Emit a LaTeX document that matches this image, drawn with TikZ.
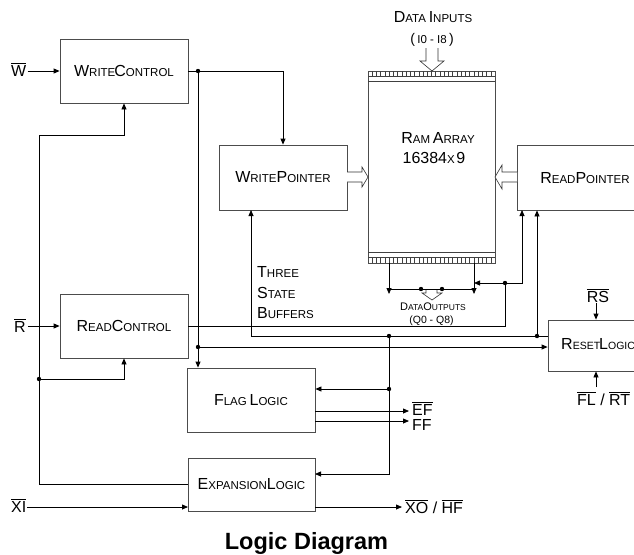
\documentclass[tikz,border=0pt]{standalone}
\usepackage{fontspec}
\setmainfont{Liberation Sans}
\usetikzlibrary{arrows.meta}
\newcommand\Bg[1]{{\fontsize{16}{16}\selectfont #1}}
\newcommand\Sm[1]{{\fontsize{11.5}{12}\selectfont #1}}
\newcommand\SCa[2]{\Bg{#1}\Sm{#2}}
\newcommand\Bd[1]{{\fontsize{11}{11}\selectfont #1}}
\newcommand\Sd[1]{{\fontsize{8.5}{9}\selectfont #1}}
\newcommand\Sr[1]{{\fontsize{10.5}{11}\selectfont #1}}
\newcommand\OL[1]{$\overline{\mbox{#1}}$}
\begin{document}
\begin{tikzpicture}[x=1pt,y=-1pt,
  box/.style={draw=black!70,line width=0.8pt,minimum width=128pt,minimum height=64pt,inner sep=0pt},
  wire/.style={line width=0.8pt},
  arr/.style={wire,-{Triangle[length=6pt,width=5pt]}},
  lbl/.style={inner sep=0pt,font=\fontsize{16}{16}\selectfont},
  txt/.style={inner sep=0pt},
  hollow/.style={draw=black!80,line width=0.6pt,fill=white}]
\useasboundingbox (0,0) rectangle (634,554);
\begin{scope}
\clip (0,0) rectangle (634,554);
% boxes
\node[box] (wc) at (124,71) {\SCa{W}{RITE}\kern-1pt\SCa{C}{ONTROL}};
\node[box] (rc) at (124,326) {\SCa{R}{EAD}\SCa{C}{ONTROL}};
\node[box,minimum height=65pt] (wp) at (283,177.5) {\SCa{W}{RITE}\SCa{P}{OINTER}};
\node[box,minimum width=142pt,minimum height=65pt] (rp) at (588,177.5) {};
\node[txt] (rptxt) at (585,178) {\SCa{R}{EAD}\SCa{P}{OINTER}};
\node[box,minimum width=127pt,minimum height=192pt] (ram) at (431.5,167) {};
\node[box,minimum width=112pt,minimum height=51pt] (rl) at (604,345.5) {};
\node[txt,anchor=west] (rltxt) at (561,344) {\Bg{R}\Sr{ESET}\kern-1pt\Bg{L}\Sr{OGIC}};
\node[box] (fl) at (251,400) {\SCa{F}{LAG} \SCa{L}{OGIC}};
\node[box,minimum width=127pt,minimum height=53pt] (el) at (251.5,484.5) {\SCa{E}{XPANSION}\SCa{L}{OGIC}};

% RAM bands
\draw[black!75,line width=0.6pt] (368,76.5) -- (495,76.5) (368,81) -- (495,81);
\foreach \i in {1,...,29} \draw[black!75,line width=0.5pt] (368+\i*4.233,71) -- ++(0,5.5);
\draw[black!75,line width=0.6pt] (368,252) -- (495,252) (368,257) -- (495,257);
\foreach \i in {1,...,29} \draw[black!75,line width=0.5pt] (368+\i*4.233,257) -- ++(0,6);

% RAM texts
\node[txt] (ramt) at (438,138) {\SCa{R}{AM} \SCa{A}{RRAY}};
\node[txt] (ramn) at (434,158) {{\fontsize{16}{16}\selectfont 16384}\Sm{X}\,{\fontsize{16}{16}\selectfont 9}};
\node[txt] (din) at (433,17) {\SCa{D}{ATA} \SCa{I}{NPUTS}};
\node[txt] (dinr) at (432,40) {{\fontsize{14}{14}\selectfont(\,\Sm{I0 - I8}\,)}};
\node[txt] (dout) at (433,307) {\Bd{D}\Sd{ATA}\Bd{O}\Sd{UTPUTS}};
\node[txt] (doutr) at (431.5,321) {{\fontsize{10.5}{11}\selectfont (Q0 - Q8)}};
\node[txt,anchor=west] (tb1) at (257,272) {\SCa{T}{HREE}};
\node[txt,anchor=west] (tb2) at (257,293) {\SCa{S}{TATE}};
\node[txt,anchor=west] (tb3) at (257,313) {\SCa{B}{UFFERS}};

% hollow arrows
\draw[hollow] (426,48) -- (426,61) -- (420,61) -- (432,71) -- (444,61) -- (438,61) -- (438,48);
\draw[hollow] (347,172) -- (362,172) -- (362,167) -- (368,177) -- (362,187) -- (362,182) -- (347,182);
\draw[hollow] (517,172) -- (502,172) -- (502,165) -- (495,177) -- (502,189) -- (502,182) -- (517,182);
\draw[hollow] (426,289) -- (426,293) -- (422,293) -- (432,300) -- (442,293) -- (437,293) -- (437,289);

% labels
\node[lbl,anchor=base west] (wl) at (11,76) {\OL{W}};
\node[lbl,anchor=base west] (rlb) at (14,332) {\OL{R}};
\node[lbl,anchor=base west] (xl) at (11,512) {\OL{XI}};
\node[lbl,anchor=base] (rsl) at (598,302) {\OL{RS}};
\node[lbl,anchor=base west] (frl) at (577,405) {\OL{FL} / \OL{RT}};
\node[lbl,anchor=base west] (efl) at (412,415) {\OL{EF}};
\node[lbl,anchor=base west] (ffl) at (412,430) {FF};
\node[lbl,anchor=base west] (xol) at (405,513) {\OL{XO} / \OL{HF}};

% coordinates
\coordinate (d1) at (198,71);
\coordinate (d2) at (198,347);
\coordinate (fbtop) at (39,135);
\coordinate (d3) at (39,379);
\coordinate (d4) at (505,283);
\coordinate (rpa) at (522,210);
\coordinate (d5) at (537,336);
\coordinate (wpin) at (251,210);
\coordinate (d6) at (389,336);
\coordinate (d7) at (389,389);
\coordinate (elin) at (315,474);
\coordinate (ql) at (389,263);
\coordinate (qr) at (474,263);
\coordinate (qlb) at (389,294);
\coordinate (qrb) at (474,294);
\coordinate (qh1) at (389,289);
\coordinate (qh2) at (474,289);
\coordinate (o1) at (421,289);
\coordinate (o2) at (442,289);
\coordinate (efa) at (315,411);
\coordinate (efb) at (409,411);
\coordinate (ffa) at (315,421);
\coordinate (ffb) at (409,421);
\coordinate (xoa) at (315,507);
\coordinate (xob) at (402,507);
\coordinate (xia) at (27,507);
\coordinate (xib) at (188,507);
\coordinate (rsa) at (596,303);
\coordinate (fra) at (596,387);

% connectors
\draw[arr] (wc.west -| wl.east) ++(1,0) -- (wc.west);
\draw[arr] (rc.west -| rlb.east) ++(2,0) -- (rc.west);
\draw[arr] (wc.east) -| (wp.north);
\draw[arr] (d1) -- (d1 |- fl.north);
\draw[arr] (d2) -- (d2 -| rl.west);
\draw[wire] (el.west) -| (fbtop);
\draw[arr] (fbtop) -| (wc.south);
\draw[arr] (d3) -| (rc.south);
\draw[wire] (rc.east) -| (d4);
\draw[arr] (d4) -- (d4 -| qr);
\draw[arr] (d4) -| (rpa);
\draw[arr] (rl.west |- d5) -| (wpin);
\draw[arr] (d5) -- (d5 |- rp.south);
\draw[arr] (d6) |- (elin);
\draw[arr] (d7) -- (d7 -| fl.east);
\draw[arr] (ql) -- (qlb);
\draw[arr] (qr) -- (qrb);
\draw[wire] (qh1) -- (qh2);
\draw[arr] (efa) -- (efb);
\draw[arr] (ffa) -- (ffb);
\draw[arr] (xoa) -- (xob);
\draw[arr] (xia) -- (xib);
\draw[arr] (rsa) -- (rsa |- rl.north);
\draw[arr] (fra) -- (fra |- rl.south);

% dots
\foreach \p in {d1,d2,d3,d4,d5,d6,d7,o1,o2} \fill (\p) circle (2.2pt);
\end{scope}
\node[anchor=base] (title) at (306.5,549) {\fontsize{23.5}{24}\selectfont\bfseries Logic Diagram};
\end{tikzpicture}
\end{document}
